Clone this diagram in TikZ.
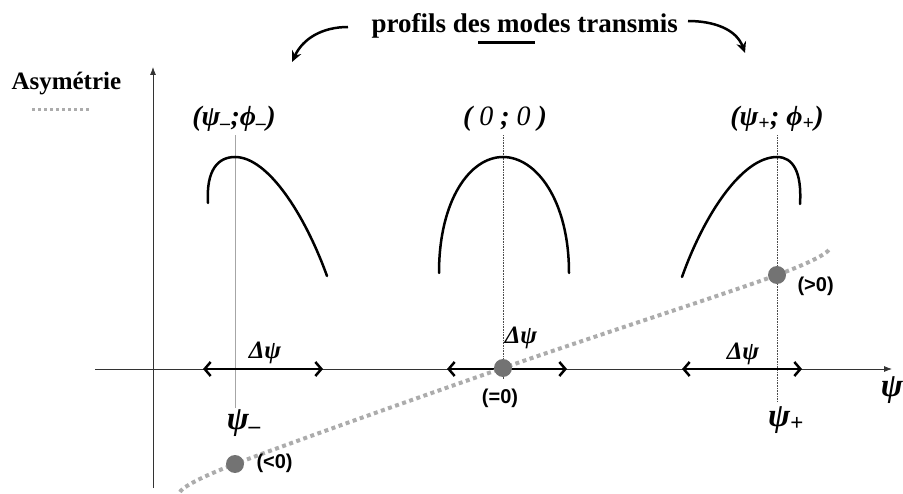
\documentclass[tikz,border=0pt]{standalone}
\usepackage{fontspec}
\setmainfont{Liberation Serif}
\newfontfamily\labelsans{Liberation Sans}
\usetikzlibrary{arrows.meta}
\tikzset{
  axis/.style={-{Latex[length=8pt,width=6pt]},line width=0.8pt,black!80},
  profile/.style={line width=2.5pt,line cap=round},
  dimarrow/.style={{Straight Barb[length=6pt,width=14pt]}-{Straight Barb[length=6pt,width=14pt]},line width=2.5pt},
  asymline/.style={gray!65,line width=4pt,dash pattern=on 4pt off 3.5pt},
  guide/.style={gray!70,line width=0.8pt},
  dotguide/.style={black!70,line width=0.6pt,densely dotted},
  titlearrow/.style={-{Stealth[length=11pt,width=10pt]},line width=2.5pt},
  ball/.style={circle,fill=black!55,minimum size=18pt,inner sep=0pt},
  greek/.style={font=\fontsize{28}{30}\selectfont\bfseries\itshape},
  widthlabel/.style={font=\fontsize{25}{27}\selectfont\bfseries\itshape},
  biggreek/.style={font=\fontsize{33}{36}\selectfont\bfseries\itshape},
  signlabel/.style={font=\fontsize{20}{22}\selectfont\labelsans\bfseries}
}

\begin{document}
\begin{tikzpicture}[x=1pt,y=-1pt]
    \useasboundingbox (0,0) rectangle (903,494);
    % title and legend
    \node[anchor=base west,font=\fontsize{27}{30}\selectfont\bfseries] (title) at (368,33) {profils des modes transmis};
    \draw[line width=3pt] (478,43) -- (535,43);
    \coordinate (la0) at (348,27); \coordinate (la1) at (292,62);
    \coordinate (ra0) at (688,21); \coordinate (ra1) at (745,53);
    \draw[titlearrow] (la0) to[out=180,in=65] (la1);
    \draw[titlearrow] (ra0) to[out=0,in=110] (ra1);
    \node[anchor=base west,font=\fontsize{25}{28}\selectfont\bfseries] (asym) at (8,90) {Asymétrie};
    \coordinate (lg0) at (32,110); \coordinate (lg1) at (90,110);
    \draw[asymline,line width=3pt,dash pattern=on 3pt off 3pt] (lg0) -- (lg1);
    % axes
    \coordinate (xs) at (95,369); \coordinate (xe) at (892,369);
    \coordinate (ys) at (153,488); \coordinate (ye) at (153,67);
    \draw[axis] (xs) -- (xe);
    \draw[axis] (ys) -- (ye);
    \node[biggreek] (psi) at (892,390) {ψ};
    % mode labels and guides
    \node[greek] (mminus) at (234,119) {(ψ\textsubscript{–};ϕ\textsubscript{–})};
    \node[greek] (mzero) at (505,119) {( \textmd{0} ; \textmd{0} )};
    \node[greek] (mplus) at (777,119) {(ψ\textsubscript{+}; ϕ\textsubscript{+})};
    \coordinate (gm) at (235,408); \coordinate (gz) at (503,380); \coordinate (gp) at (777,402);
    \draw[guide] (mminus.south -| gm) -- (gm);
    \draw[dotguide] (mzero.south -| gz) -- (gz);
    \draw[dotguide] (mplus.south -| gp) -- (gp);
    % profiles
    \draw[profile] (208,203) .. controls (206,170) and (218,157) .. (235,157)
        .. controls (268,157) and (305,215) .. (327,276);
    \draw[profile] (439,273) .. controls (439,200) and (470,157) .. (503,157)
        .. controls (536,157) and (569,200) .. (569,273);
    \draw[profile] (682,277) .. controls (704,215) and (742,157) .. (777,157)
        .. controls (793,157) and (802,172) .. (800,204);
    % widths
    \coordinate (dm0) at (203,369); \coordinate (dm1) at (323,369);
    \coordinate (dz0) at (447,369); \coordinate (dz1) at (567,369);
    \coordinate (dp0) at (682,369); \coordinate (dp1) at (802,369);
    \draw[dimarrow] (dm0) -- (dm1);
    \draw[dimarrow] (dz0) -- (dz1);
    \draw[dimarrow] (dp0) -- (dp1);
    \node[widthlabel] (wm) at (265,353) {Δψ};
    \node[widthlabel] (wz) at (521,338) {Δψ};
    \node[widthlabel] (wp) at (743,354) {Δψ};
    \node[biggreek] (psim) at (244,423) {ψ\textsubscript{–}};
    \node[biggreek] (psip) at (786,420) {ψ\textsubscript{+}};
    % asymmetry
    \coordinate (am) at (235,464); \coordinate (az) at (503,368); \coordinate (ap) at (777,275);
    \draw[asymline] plot[smooth,tension=0.6] coordinates {(180,492) (am) (az) (ap) (830,248)};
    \node[ball] (bm) at (am) {};
    \node[ball] (bz) at (az) {};
    \node[ball] (bp) at (ap) {};
    \node[signlabel,anchor=west] (sm) at (253,463) {(<0)};
    \node[signlabel] (sz) at (500,398) {(=0)};
    \node[signlabel,anchor=west] (sp) at (794,286) {(>0)};
\end{tikzpicture}
\end{document}
